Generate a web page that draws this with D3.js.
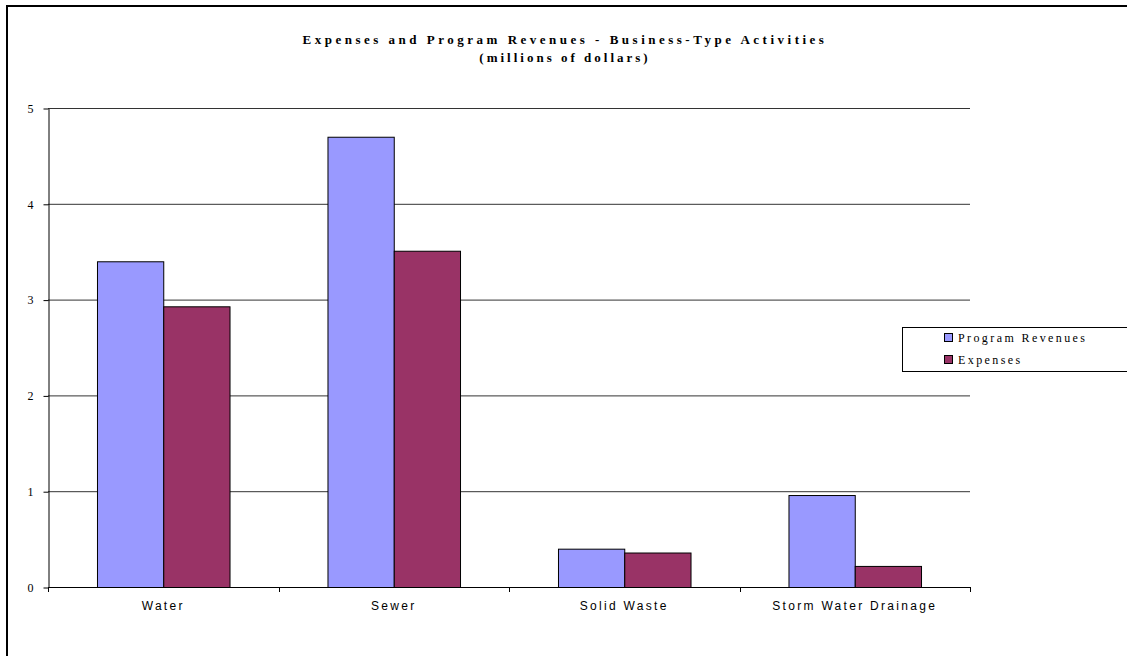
<!DOCTYPE html>
<html>
<head>
<meta charset="utf-8">
<script src="https://cdn.jsdelivr.net/npm/d3@7"></script>
<style>
  body { margin: 0; background: #fff; }
  svg { display: block; }
</style>
</head>
<body>
<div id="chart"></div>
<script>
const categories = ["Water", "Sewer", "Solid Waste", "Storm Water Drainage"];
const seriesNames = ["Program Revenues", "Expenses"];
const revenues = [3.40, 4.70, 0.40, 0.96];
const expenses = [2.93, 3.51, 0.36, 0.22];
const yTicks = [0, 1, 2, 3, 4, 5];
const colors = ["#9999ff", "#993366"];

const width = 1127, height = 656,
      margin = {left: 48, right: 157, top: 108, bottom: 69};

const svg = d3.select("#chart").append("svg")
  .attr("width", width)
  .attr("height", height);

// outer frame
svg.append("rect")
  .attr("x", 7).attr("y", 6)
  .attr("width", width + 10).attr("height", height + 10)
  .style("fill", "none")
  .style("stroke", "#000")
  .style("stroke-width", 2);

const x = d3.scaleBand()
  .domain(categories)
  .range([margin.left, width - margin.right])
  .paddingInner(0.425)
  .paddingOuter(0.2125);

const y = d3.scaleLinear()
  .domain([0, 5])
  .range([height - margin.bottom, margin.top]);

// gridlines
svg.append("g").selectAll("line")
  .data(yTicks.slice(1))
  .enter().append("line")
  .attr("x1", margin.left).attr("x2", width - margin.right)
  .attr("y1", d => y(d) + 0.5).attr("y2", d => y(d) + 0.5)
  .style("stroke", "#333")
  .style("stroke-width", 1);

// bars
const rows = categories.map((c, i) => ({cat: c, vals: [revenues[i], expenses[i]]}));
const inner = d3.scaleBand().domain([0, 1]).range([0, x.bandwidth()]);

svg.append("g").selectAll("g")
  .data(rows)
  .enter().append("g")
  .attr("transform", d => `translate(${x(d.cat)},0)`)
  .selectAll("rect")
  .data(d => d.vals.map((v, k) => ({v, k})))
  .enter().append("rect")
  .attr("x", d => inner(d.k) + 0.5)
  .attr("y", d => y(d.v) + 0.5)
  .attr("width", inner.bandwidth())
  .attr("height", d => y(0) - y(d.v))
  .style("fill", d => colors[d.k])
  .style("stroke", "#000")
  .style("stroke-width", 1);

// y axis
const yAxis = svg.append("g")
  .attr("transform", `translate(${margin.left + 0.5},0.5)`)
  .call(d3.axisLeft(y).tickValues(yTicks).tickFormat(d3.format("d"))
    .tickSize(5).tickPadding(10).tickSizeOuter(0));
yAxis.select(".domain").style("stroke", "#000");
yAxis.selectAll("text")
  .style("font-family", "Liberation Serif, Times New Roman, serif")
  .style("font-size", "12px")
  .attr("fill", "#000");

// x axis
const step = x.step();
const boundaries = categories.map((c, i) => margin.left + step * (i + 1));
const xg = svg.append("g");
xg.append("line")
  .attr("x1", margin.left).attr("x2", width - margin.right)
  .attr("y1", y(0) + 0.5).attr("y2", y(0) + 0.5)
  .style("stroke", "#000");
xg.selectAll("line.tick")
  .data(boundaries)
  .enter().append("line")
  .attr("class", "tick")
  .attr("x1", d => Math.round(d) + 0.5).attr("x2", d => Math.round(d) + 0.5)
  .attr("y1", y(0)).attr("y2", y(0) + 5)
  .style("stroke", "#000");
xg.append("line")
  .attr("x1", margin.left + 0.5).attr("x2", margin.left + 0.5)
  .attr("y1", y(0)).attr("y2", y(0) + 5)
  .style("stroke", "#000");
xg.selectAll("text")
  .data(categories)
  .enter().append("text")
  .attr("x", d => x(d) + x.bandwidth() / 2)
  .attr("y", y(0) + 23)
  .attr("text-anchor", "middle")
  .style("font-family", "Liberation Sans, Arial, sans-serif")
  .style("font-size", "12px")
  .style("letter-spacing", "2.3px")
  .text(d => d);

// title
const title = svg.append("text")
  .attr("x", 565)
  .attr("text-anchor", "middle")
  .style("font-family", "Liberation Serif, Times New Roman, serif")
  .style("font-weight", "bold")
  .style("font-size", "13px");
title.append("tspan").attr("x", 565).attr("y", 44)
  .style("letter-spacing", "3.5px")
  .text("Expenses and Program Revenues - Business-Type Activities");
title.append("tspan").attr("x", 565).attr("y", 62)
  .style("letter-spacing", "3px")
  .text("(millions of dollars)");

// legend
const lg = svg.append("g");
lg.append("rect")
  .attr("x", 902.5).attr("y", 327.5)
  .attr("width", 240).attr("height", 44)
  .style("fill", "#fff")
  .style("stroke", "#000");
seriesNames.forEach((name, i) => {
  const ly = 338 + i * 22;
  lg.append("rect")
    .attr("x", 944.5).attr("y", ly - 4.5)
    .attr("width", 8).attr("height", 8)
    .style("fill", colors[i])
    .style("stroke", "#000");
  lg.append("text")
    .attr("x", 958).attr("y", ly + 4)
    .style("font-family", "Liberation Serif, Times New Roman, serif")
    .style("font-size", "12px")
    .style("letter-spacing", "2.4px")
    .text(name);
});
</script>
</body>
</html>
